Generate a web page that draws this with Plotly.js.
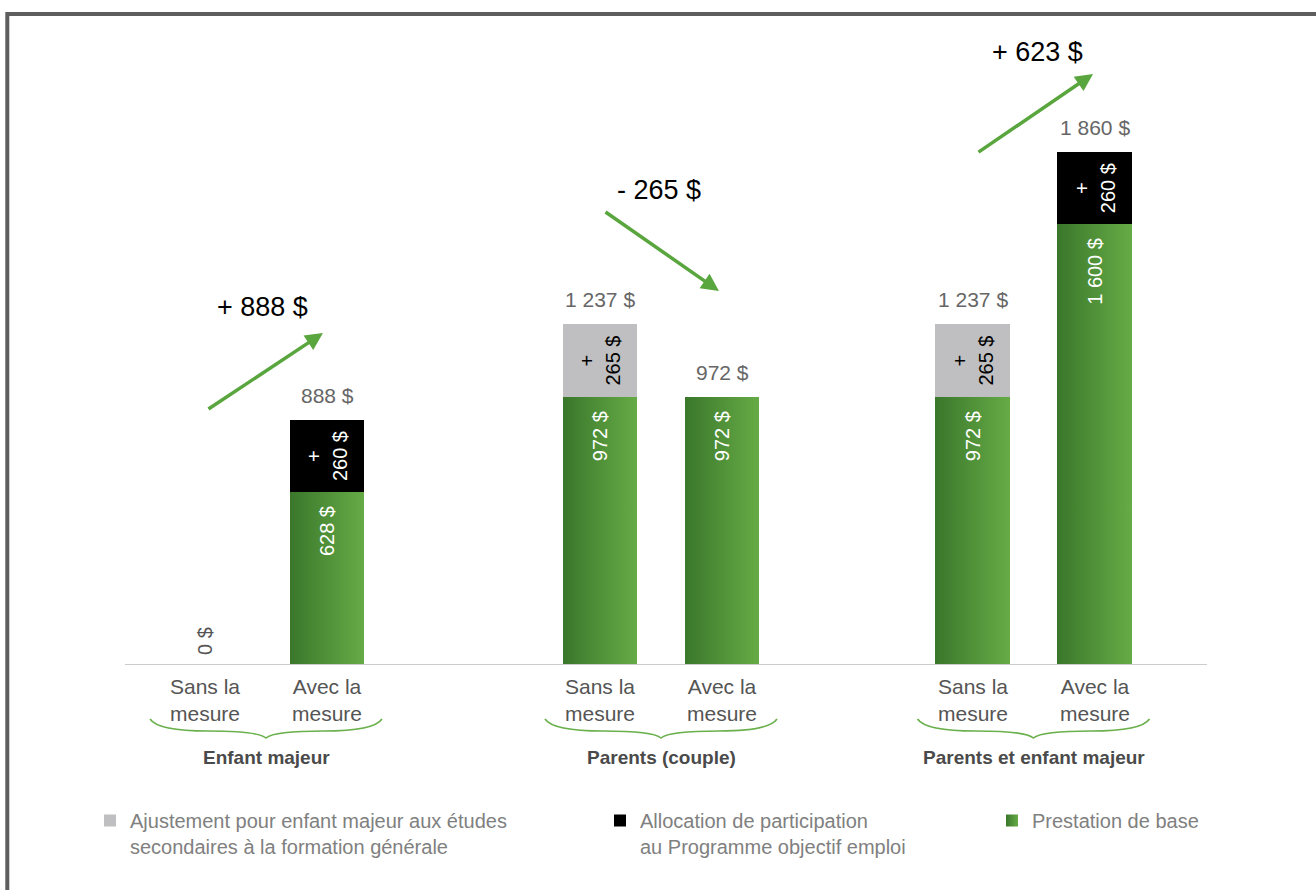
<!DOCTYPE html>
<html><head><meta charset="utf-8">
<script src="https://cdn.plot.ly/plotly-3.0.1.min.js"></script>
<style>html,body{margin:0;padding:0;background:#fff}#chart{width:1316px;height:890px}</style>
</head><body>
<svg width="0" height="0" style="position:absolute"><defs><linearGradient id="greenGrad" x1="0" y1="0" x2="1" y2="0"><stop offset="0" stop-color="#3a772b"/><stop offset="1" stop-color="#66ab46"/></linearGradient></defs></svg>
<div id="chart"></div>
<script>
// ---- data ----
const groups = ["Enfant majeur", "Parents (couple)", "Parents et enfant majeur"];
const scenarios = ["Sans la mesure", "Avec la mesure"];
const tickLabels = ["Sans la<br>mesure", "Avec la<br>mesure"];
const baseValues  = [[0, 628], [972, 972], [972, 1600]];   // Prestation de base
const allocValues = [[0, 260], [0, 0],     [0, 260]];      // Allocation de participation
const ajustValues = [[0, 0],   [265, 0],   [265, 0]];      // Ajustement enfant majeur
const variations = ["+ 888 $", "- 265 $", "+ 623 $"];
const legendNames = [
  "Ajustement pour enfant majeur aux études<br>secondaires à la formation générale",
  "Allocation de participation<br>au Programme objectif emploi",
  "Prestation de base"
];

// ---- helpers ----
const W = 1316, H = 890, BASE_PX = 665, TOP_PX = 31;
const PLOT_H = BASE_PX - TOP_PX;
const px2x = p => p / W;
const py2y = p => (BASE_PX - p) / PLOT_H;
const FONT = "Liberation Sans, Arial, sans-serif";
const fmt = v => String(v).replace(/\B(?=(\d{3})+(?!\d))/g, "\u00a0") + "\u00a0$";
const GREEN = "#4f9437";
const domains = [[144, 388], [539, 783], [911.5, 1155.5]];
const xa = g => g === 0 ? "x" : "x" + (g + 1);

const traces = [];
const series = [
  {vals: baseValues, color: GREEN, name: legendNames[2], legend: "legend3",
   text: v => v > 0 ? fmt(v) + "\u00a0\u00a0" : "", anchor: "end", tcolor: "#ffffff"},
  {vals: allocValues, color: "#000000", name: legendNames[1], legend: "legend2",
   text: v => v > 0 ? "+<br>" + fmt(v) : "", anchor: "middle", tcolor: "#ffffff"},
  {vals: ajustValues, color: "#bfbfc1", name: legendNames[0], legend: "legend",
   text: v => v > 0 ? "+<br>" + fmt(v) : "", anchor: "middle", tcolor: "#000000"}
];
series.forEach(s => {
  groups.forEach((gname, g) => {
    traces.push({
      type: "bar", x: scenarios, y: s.vals[g], xaxis: xa(g), yaxis: "y",
      name: s.name, legend: s.legend, showlegend: g === 0,
      marker: {color: s.color, line: {width: 0}},
      text: s.vals[g].map(s.text), textposition: "inside", insidetextanchor: s.anchor,
      textangle: -90, constraintext: "none",
      insidetextfont: {color: s.tcolor, size: 20, family: FONT},
      hoverinfo: "skip"
    });
  });
});

const annotations = [];
const shapes = [];
// frame
shapes.push({type: "rect", xref: "paper", yref: "paper", x0: px2x(7.3), x1: px2x(1340),
  y0: py2y(14), y1: py2y(930), line: {color: "#5e5e5e", width: 4}, fillcolor: "rgba(0,0,0,0)"});
// baseline
shapes.push({type: "line", xref: "paper", yref: "y", x0: px2x(125), x1: px2x(1207), y0: 0, y1: 0,
  line: {color: "#cccccc", width: 2}});

const arrowPos = [
  {tx: 0.016, ty: 925, hx: 0.967, hy: 1204, lx: 0.475, ly: 1299},
  {tx: 0.033, ty: 1647, hx: 0.975, hy: 1357, lx: 0.484, ly: 1723},
  {tx: 0.037, ty: 1857, hx: 0.988, hy: 2144, lx: 0.529, ly: 2223}
];

groups.forEach((gname, g) => {
  const xr = xa(g);
  scenarios.forEach((sc, i) => {
    // tick label
    annotations.push({xref: xr, yref: "paper", x: sc, y: py2y(700), text: tickLabels[i],
      showarrow: false, yanchor: "middle", font: {family: FONT, size: 21, color: "#555555"}});
    const total = baseValues[g][i] + allocValues[g][i] + ajustValues[g][i];
    if (total === 0) {
      annotations.push({xref: xr, yref: "y", x: sc, y: 0, text: fmt(total), showarrow: false,
        textangle: -90, yanchor: "bottom", yshift: 8,
        font: {family: FONT, size: 20, color: "#555555"}});
    } else {
      annotations.push({xref: xr, yref: "y", x: sc, y: total, text: fmt(total), showarrow: false,
        yanchor: "bottom", yshift: 11, font: {family: FONT, size: 21, color: "#666666"}});
    }
  });
  // group label
  annotations.push({xref: xr, yref: "paper", x: 0.5, y: py2y(757), text: gname, showarrow: false,
    yanchor: "middle", font: {family: FONT, size: 19, color: "#4a4a4a", weight: "bold"}});
  // brace
  const cx = (domains[g][0] + domains[g][1]) / 2, hw = 116;
  const P = (x, y) => px2x(x).toFixed(5) + "," + py2y(y).toFixed(5);
  const path = "M" + P(cx - hw, 719) +
    " Q" + P(cx - hw + 8, 731) + " " + P(cx - hw / 2, 731) +
    " Q" + P(cx - 8, 731) + " " + P(cx, 738) +
    " Q" + P(cx + 8, 731) + " " + P(cx + hw / 2, 731) +
    " Q" + P(cx + hw - 8, 731) + " " + P(cx + hw, 719);
  shapes.push({type: "path", xref: "paper", yref: "paper", path: path,
    line: {color: "#6ab04c", width: 1.6}});
  // variation arrow + label
  const a = arrowPos[g];
  annotations.push({xref: xr, yref: "y", axref: xr, ayref: "y", x: a.hx, y: a.hy, ax: a.tx, ay: a.ty,
    text: "", showarrow: true, arrowhead: 2, arrowsize: 1, arrowwidth: 3.5, arrowcolor: "#5aa63e",
    standoff: 0, startstandoff: 0});
  annotations.push({xref: xr, yref: "y", x: a.lx, y: a.ly, text: variations[g], showarrow: false,
    font: {family: FONT, size: 27, color: "#000000"}});
});

const legendBase = {orientation: "v", xanchor: "left", yanchor: "top", valign: "top",
  bgcolor: "rgba(0,0,0,0)", font: {family: FONT, size: 20, color: "#808080"}, itemclick: false};

const layout = {
  width: W, height: H,
  margin: {l: 0, r: 0, t: TOP_PX, b: H - BASE_PX, pad: 0},
  paper_bgcolor: "#ffffff", plot_bgcolor: "#ffffff",
  barmode: "stack", bargap: 0.393,
  font: {family: FONT},
  showlegend: true,
  legend: Object.assign({}, legendBase, {x: px2x(90), y: py2y(801)}),
  legend2: Object.assign({}, legendBase, {x: px2x(600), y: py2y(801)}),
  legend3: Object.assign({}, legendBase, {x: px2x(992), y: py2y(801)}),
  yaxis: {range: [0, 2300], visible: false, anchor: "x", fixedrange: true},
  annotations: annotations, shapes: shapes
};
groups.forEach((gname, g) => {
  const key = g === 0 ? "xaxis" : "xaxis" + (g + 1);
  layout[key] = {domain: [px2x(domains[g][0]), px2x(domains[g][1])], anchor: "y",
    type: "category", categoryarray: scenarios, range: [-0.5, 1.5],
    showticklabels: false, showgrid: false, zeroline: false, showline: false, ticks: "",
    fixedrange: true};
});

Plotly.newPlot("chart", traces, layout, {displayModeBar: false, responsive: false}).then(() => {
  document.querySelectorAll("#chart path").forEach(p => {
    if (p.style.fill === "rgb(79, 148, 55)") p.style.fill = "url(#greenGrad)";
  });
});
</script>
</body></html>
